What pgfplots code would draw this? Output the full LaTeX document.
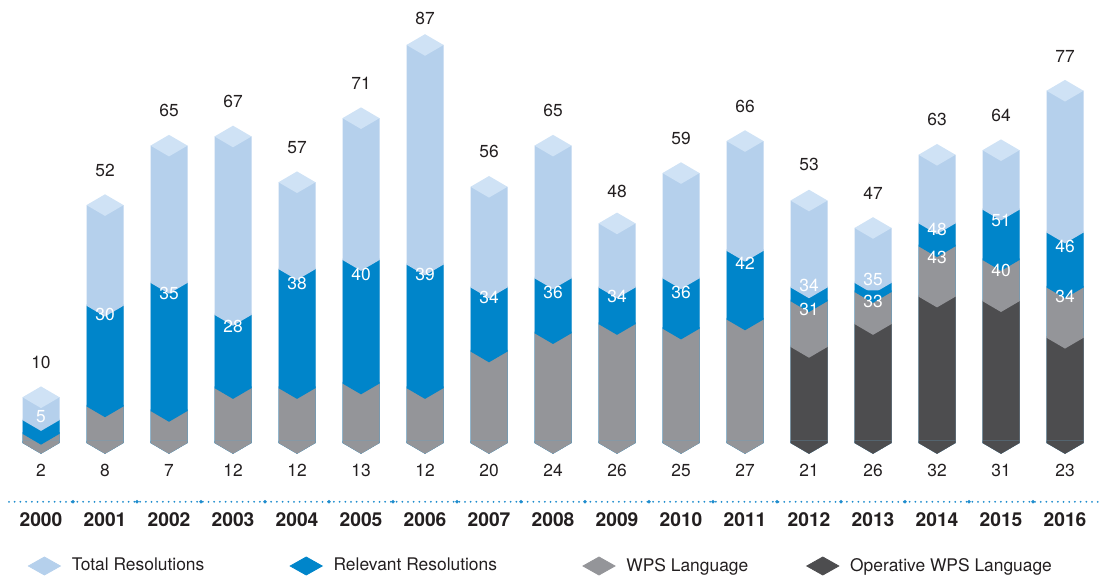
\documentclass[border=0pt]{standalone}
\usepackage{fontspec}
\setmainfont{TeX Gyre Heros}
\usepackage{pgfplots}
\usepackage{pgfplotstable}
\pgfplotsset{compat=1.18}

\definecolor{totside}{RGB}{181,208,236}
\definecolor{tottop}{RGB}{207,226,245}
\definecolor{relcol}{RGB}{0,133,202}
\definecolor{wpscol}{RGB}{148,149,153}
\definecolor{opcol}{RGB}{77,77,79}
\definecolor{txt}{RGB}{35,31,32}
\definecolor{dotcol}{RGB}{30,140,205}

\newcommand\lab{\fontsize{8.7}{10}\selectfont}
% half width and half depth of the prism caps
\newcommand\bw{9.25pt}
\newcommand\bd{5.4pt}
\pgfdeclareplotmark{cap}{%
  \pgfpathmoveto{\pgfpoint{-\bw}{0pt}}\pgfpathlineto{\pgfpoint{0pt}{\bd}}%
  \pgfpathlineto{\pgfpoint{\bw}{0pt}}\pgfpathlineto{\pgfpoint{0pt}{-\bd}}%
  \pgfpathclose\pgfusepathqfill}
\pgfdeclareplotmark{notch}{%
  \pgfpathmoveto{\pgfpoint{-\bw}{0.8pt}}\pgfpathlineto{\pgfpoint{\bw}{0.8pt}}%
  \pgfpathlineto{\pgfpoint{\bw}{0pt}}\pgfpathlineto{\pgfpoint{0pt}{-\bd}}%
  \pgfpathlineto{\pgfpoint{-\bw}{0pt}}\pgfpathclose\pgfusepathqfill}
\pgfdeclareplotmark{foot}{%
  \pgfpathmoveto{\pgfpoint{-\bw}{1pt}}\pgfpathlineto{\pgfpoint{\bw}{1pt}}%
  \pgfpathlineto{\pgfpoint{\bw}{0pt}}\pgfpathlineto{\pgfpoint{0pt}{-\bd}}%
  \pgfpathlineto{\pgfpoint{-\bw}{0pt}}\pgfpathclose\pgfusepathqfill}

% dtot, drel, dwps: label shifts in pt
\pgfplotstableread{
x year total rel wps op dtot drel dwps
0 2000 10 5 2 nan 17.5 2 0
1 2001 52 30 8 nan 17.5 -4.5 0
2 2002 65 35 7 nan 17.5 -5.5 0
3 2003 67 28 12 nan 17.5 -6 0
4 2004 57 38 12 nan 17.5 -7 0
5 2005 71 40 13 nan 17.5 -7 0
6 2006 87 39 12 nan 13.5 -5 0
7 2007 56 34 20 nan 17.5 -5 0
8 2008 65 36 24 nan 17.5 -7 0
9 2009 48 34 26 nan 16 -4.7 0
10 2010 59 36 25 nan 17.5 -7 0
11 2011 66 42 27 nan 17.5 -6 0
12 2012 53 34 31 21 18 1 -4
13 2013 47 35 33 26 17.5 1.8 -4.5
14 2014 63 48 43 32 17.5 -2.8 -5.5
15 2015 64 51 40 31 17.5 -5.5 -5.3
16 2016 77 46 34 23 17 -7 -4.5
}\data

\begin{document}
\begin{tikzpicture}
\begin{axis}[name=ax, scale only axis, width=550.5pt, height=288.5pt,
  xmin=-0.640625, xmax=16.5625, ymin=-29.29, ymax=96.831,
  axis lines=none, xtick=\empty, ytick=\empty, clip=false,
  /pgf/number format/assume math mode=true,
  nodes near coords style={font=\lab, anchor=center, inner sep=0pt},
  legend style={draw=none, fill=none, inner sep=0pt, outer sep=0pt,
    at={(axis description cs:0.02543,0.01906)}, anchor=west,
    legend columns=4, font=\lab, text=txt,
    /tikz/every odd column/.style={column sep=5.5pt},
    /tikz/every even column/.style={column sep=0pt},
    nodes={inner sep=0pt}},
]
% total resolutions
\addplot[forget plot, ybar, bar width=18.5pt, bar shift=0pt, fill=totside, draw=none] table[x=x, y=total] {\data};
\addplot[forget plot, only marks, mark=foot, mark options={fill=totside}] table[x=x, y expr=0] {\data};
\addplot[forget plot, only marks, mark=cap, mark options={fill=tottop}] table[x=x, y=total] {\data};
% relevant resolutions
\addplot[forget plot, ybar, bar width=18.5pt, bar shift=0pt, fill=relcol, draw=none] table[x=x, y=rel] {\data};
\addplot[forget plot, only marks, mark=foot, mark options={fill=relcol}] table[x=x, y expr=0] {\data};
\addplot[forget plot, only marks, mark=notch, mark options={fill=totside}] table[x=x, y=rel] {\data};
% WPS language
\addplot[forget plot, ybar, bar width=18.5pt, bar shift=0pt, fill=wpscol, draw=none] table[x=x, y=wps] {\data};
\addplot[forget plot, only marks, mark=foot, mark options={fill=wpscol}] table[x=x, y expr=0] {\data};
\addplot[forget plot, only marks, mark=notch, mark options={fill=relcol}] table[x=x, y=wps] {\data};
% operative WPS language
\addplot[forget plot, ybar, bar width=18.5pt, bar shift=0pt, fill=opcol, draw=none] table[x=x, y=op] {\data};
\addplot[forget plot, only marks, mark=foot, mark options={fill=opcol}, restrict x to domain=11.5:17] table[x=x, y expr=0] {\data};
\addplot[forget plot, only marks, mark=notch, mark options={fill=wpscol}] table[x=x, y=op] {\data};

% dotted rule above the years
\addplot[forget plot, dotcol, line width=1pt, line cap=round, dash pattern=on 0pt off 2.85pt] coordinates {(-0.5,-12.85) (16.5625,-12.85)};
\addplot[forget plot, only marks, mark=*, mark size=0.65pt, dotcol, restrict x to domain=-1:15.9] table[x expr=\thisrow{x}+0.5, y expr=-12.85] {\data};

% labels
\addplot[forget plot, draw=none, mark=none, point meta=explicit,
  visualization depends on={\thisrow{dtot}\as\dtot},
  nodes near coords, every node near coord/.append style={text=txt, yshift=\dtot pt}]
  table[x=x, y=total, meta=total] {\data};
\addplot[forget plot, draw=none, mark=none, point meta=explicit,
  visualization depends on={\thisrow{drel}\as\drel},
  nodes near coords, every node near coord/.append style={text=white, yshift=\drel pt}]
  table[x=x, y=rel, meta=rel] {\data};
\addplot[forget plot, draw=none, mark=none, point meta=explicit, restrict x to domain=11.5:17,
  visualization depends on={\thisrow{dwps}\as\dwps},
  nodes near coords, every node near coord/.append style={text=white, yshift=\dwps pt}]
  table[x=x, y=wps, meta=wps] {\data};
\addplot[forget plot, draw=none, mark=none, point meta=explicit, restrict x to domain=-1:11.5,
  nodes near coords, every node near coord/.append style={text=txt, yshift=-13.5pt}]
  table[x=x, y expr=0, meta=wps] {\data};
\addplot[forget plot, draw=none, mark=none, point meta=explicit, restrict x to domain=11.5:17,
  nodes near coords, every node near coord/.append style={text=txt, yshift=-13.5pt}]
  table[x=x, y expr=0, meta=op] {\data};
\addplot[forget plot, draw=none, mark=none, point meta=explicit symbolic,
  nodes near coords, every node near coord/.append style={text=txt, font=\fontsize{9.6}{10}\selectfont\bfseries}]
  table[x=x, y expr=-16.8, meta=year] {\data};

\addlegendimage{legend image code/.code={\fill[totside] (0pt,0pt) -- (8pt,4.5pt) -- (16pt,0pt) -- (8pt,-4.5pt) -- cycle;}}
\addlegendimage{legend image code/.code={\fill[relcol] (0pt,0pt) -- (8pt,4.5pt) -- (16pt,0pt) -- (8pt,-4.5pt) -- cycle;}}
\addlegendimage{legend image code/.code={\fill[wpscol] (0pt,0pt) -- (8pt,4.5pt) -- (16pt,0pt) -- (8pt,-4.5pt) -- cycle;}}
\addlegendimage{legend image code/.code={\fill[opcol] (0pt,0pt) -- (8pt,4.5pt) -- (16pt,0pt) -- (8pt,-4.5pt) -- cycle;}}
\legend{\makebox[109pt][l]{Total Resolutions}, \makebox[124.5pt][l]{Relevant Resolutions}, \makebox[90pt][l]{WPS Language}, Operative WPS Language}
\end{axis}
\pgfresetboundingbox
\path[use as bounding box] (ax.south west) rectangle (ax.north east);
\end{tikzpicture}
\end{document}
